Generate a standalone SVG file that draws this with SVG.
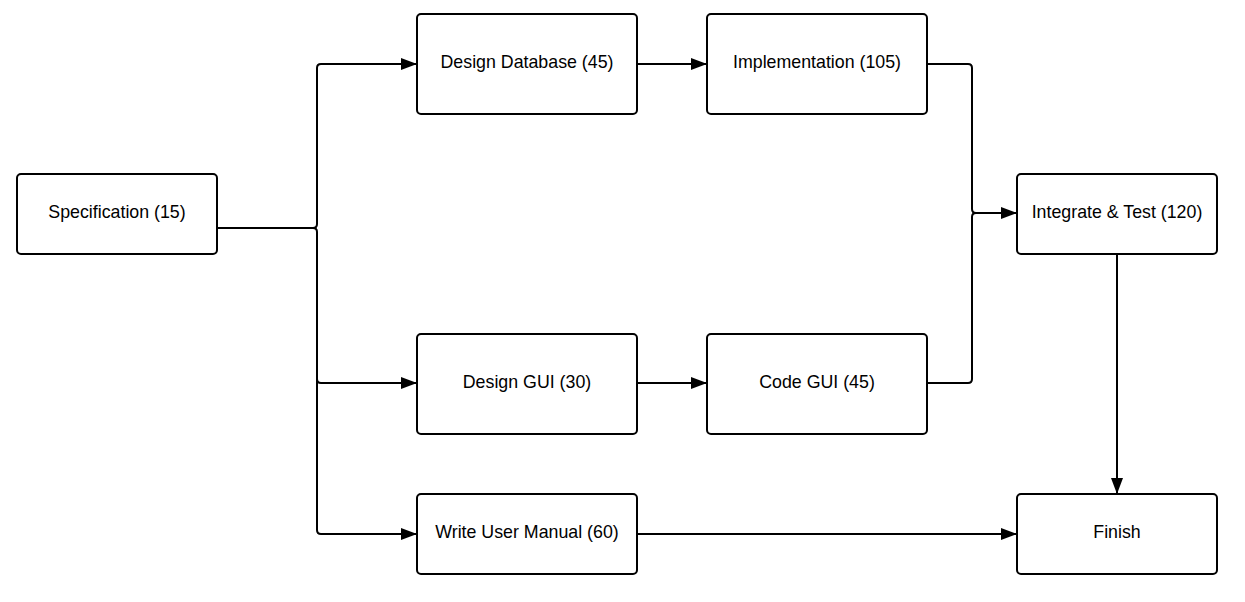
<svg xmlns="http://www.w3.org/2000/svg" width="1245" height="602" viewBox="0 0 1245 602">
<defs>
<marker id="arr" markerWidth="16" markerHeight="12" refX="16" refY="6" orient="auto" markerUnits="userSpaceOnUse">
<path d="M0,0 L16,6 L0,12 Z" fill="#000"/>
</marker>
<style>
.box{fill:#fff;stroke:#000;stroke-width:2}
.lbl{font-family:"Liberation Sans",Arial,sans-serif;font-size:17.8px;fill:#000;text-anchor:middle;dominant-baseline:central}
.c{fill:none;stroke:#000;stroke-width:2}
</style>
</defs>
<rect width="1245" height="602" fill="#fff"/>
<g id="connectors">
<path class="c" d="M217,228 H313 Q317,228 317,224 V68 Q317,64 321,64 H417" marker-end="url(#arr)"/>
<path class="c" d="M313,228 Q317,228 317,232 V379 Q317,383 321,383 H417" marker-end="url(#arr)"/>
<path class="c" d="M317,379 V530 Q317,534 321,534 H417" marker-end="url(#arr)"/>
<path class="c" d="M637,64 H707" marker-end="url(#arr)"/>
<path class="c" d="M637,383 H707" marker-end="url(#arr)"/>
<path class="c" d="M927,64 H968 Q972,64 972,68 V209 Q972,213 976,213 H1017" marker-end="url(#arr)"/>
<path class="c" d="M927,383 H968 Q972,383 972,379 V217 Q972,213 976,213"/>
<path class="c" d="M1117,254 V494" marker-end="url(#arr)"/>
<path class="c" d="M637,534 H1017" marker-end="url(#arr)"/>
</g>
<g id="spec"><rect class="box" x="17" y="174" width="200" height="80" rx="4"/><text class="lbl" x="117" y="212">Specification (15)</text></g>
<g id="designdb"><rect class="box" x="417" y="14" width="220" height="100" rx="4"/><text class="lbl" x="527" y="62">Design Database (45)</text></g>
<g id="impl"><rect class="box" x="707" y="14" width="220" height="100" rx="4"/><text class="lbl" x="817" y="62">Implementation (105)</text></g>
<g id="integrate"><rect class="box" x="1017" y="174" width="200" height="80" rx="4"/><text class="lbl" x="1117" y="212">Integrate &amp; Test (120)</text></g>
<g id="designgui"><rect class="box" x="417" y="334" width="220" height="100" rx="4"/><text class="lbl" x="527" y="382">Design GUI (30)</text></g>
<g id="codegui"><rect class="box" x="707" y="334" width="220" height="100" rx="4"/><text class="lbl" x="817" y="382">Code GUI (45)</text></g>
<g id="manual"><rect class="box" x="417" y="494" width="220" height="80" rx="4"/><text class="lbl" x="527" y="532">Write User Manual (60)</text></g>
<g id="finish"><rect class="box" x="1017" y="494" width="200" height="80" rx="4"/><text class="lbl" x="1117" y="532">Finish</text></g>
</svg>
